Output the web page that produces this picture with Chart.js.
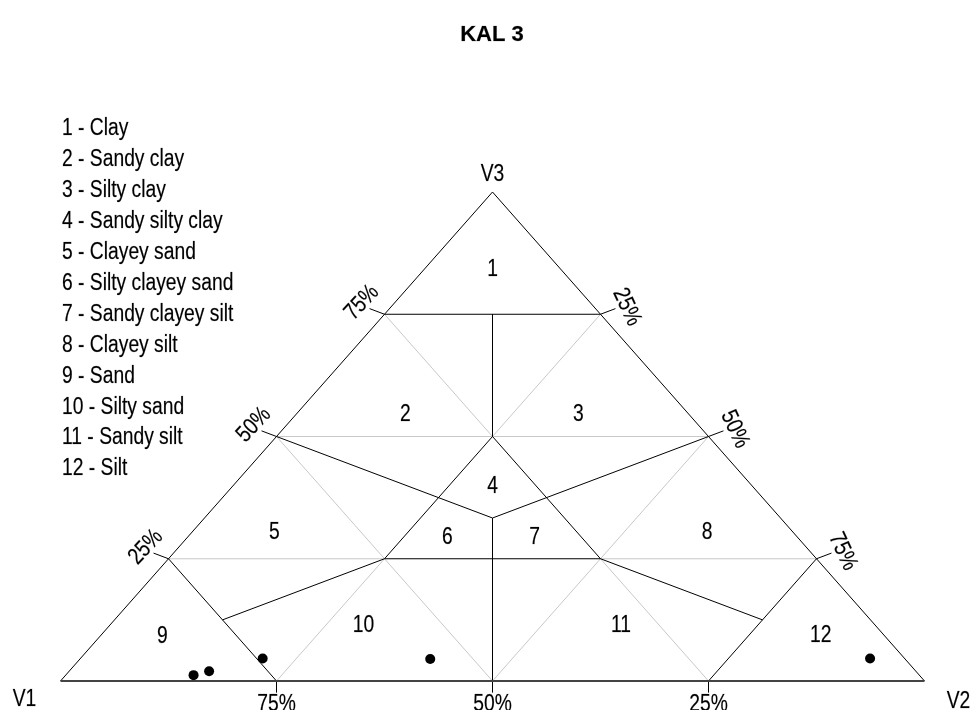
<!DOCTYPE html>
<html>
<head>
<meta charset="utf-8">
<title>KAL 3</title>
<script src="https://cdn.jsdelivr.net/npm/chart.js@4.4.1/dist/chart.umd.min.js"></script>
<style>
  html, body { margin: 0; padding: 0; background: #fff; }
  #wrap { width: 972px; height: 710px; }
</style>
</head>
<body>
<div id="wrap"><canvas id="canvasTernario" width="972" height="710"></canvas></div>
<script>
// titulo y vertices
var titulo = 'KAL 3';
var vertices = ['V1', 'V2', 'V3'];

// clases texturales (leyenda)
var clases = ['Clay', 'Sandy clay', 'Silty clay', 'Sandy silty clay', 'Clayey sand',
  'Silty clayey sand', 'Sandy clayey silt', 'Clayey silt', 'Sand', 'Silty sand',
  'Sandy silt', 'Silt'];

// muestras en % (V1, V2, V3)
var muestraV1 = [84.0, 81.8, 74.3, 54.9, 4.0];
var muestraV2 = [14.8, 16.2, 21.1, 40.5, 91.4];
var muestraV3 = [1.2, 2.0, 4.6, 4.5, 4.6];

// marcas de los ejes
var tickPct = [25, 50, 75];
var tickLabels = ['25%', '50%', '75%'];

var H = Math.sqrt(3) / 2;

// pasar de (V1, V2, V3) en % a x,y del triangulo
function tern(a, b, c) {
  var s = a + b + c;
  return { x: (b + c / 2) / s, y: (c / s) * H };
}

// limites de las clases (negro)
var T = 100 / 3;
var limitesNegros = [
  [[25, 0, 75], [0, 25, 75]],
  [[12.5, 12.5, 75], [25, 25, 50]],
  [[25, 25, 50], [50, 25, 25]],
  [[25, 25, 50], [25, 50, 25]],
  [[50, 0, 50], [T, T, T]],
  [[0, 50, 50], [T, T, T]],
  [[T, T, T], [50, 50, 0]],
  [[50, 25, 25], [25, 50, 25]],
  [[75, 0, 25], [75, 25, 0]],
  [[50, 25, 25], [75, 12.5, 12.5]],
  [[25, 50, 25], [12.5, 75, 12.5]],
  [[0, 75, 25], [25, 75, 0]]
];

// rejilla gris
var rejillaGris = [
  [[50, 0, 50], [0, 50, 50]],
  [[75, 0, 25], [50, 25, 25]],
  [[25, 50, 25], [0, 75, 25]],
  [[25, 0, 75], [25, 25, 50]],
  [[25, 50, 25], [25, 75, 0]],
  [[0, 25, 75], [25, 25, 50]],
  [[50, 25, 25], [75, 25, 0]],
  [[50, 0, 50], [50, 50, 0]],
  [[0, 50, 50], [50, 50, 0]]
];

function segmento(par, color, ancho, orden) {
  return {
    type: 'scatter',
    data: [tern.apply(null, par[0]), tern.apply(null, par[1])],
    showLine: true,
    borderColor: color,
    borderWidth: ancho,
    pointRadius: 0,
    clip: false,
    order: orden
  };
}

var datasets = [];

rejillaGris.forEach(function (s) { datasets.push(segmento(s, '#c8c8c8', 1, 3)); });
limitesNegros.forEach(function (s) { datasets.push(segmento(s, '#000', 1, 2)); });

// lados del triangulo
datasets.push(segmento([[100, 0, 0], [0, 0, 100]], '#000', 1, 2));
datasets.push(segmento([[0, 100, 0], [0, 0, 100]], '#000', 1, 2));
datasets.push(segmento([[100, 0, 0], [0, 100, 0]], '#444', 2, 1));

// marcas: abajo (V1), izquierda (V3), derecha (V2)
var L = 0.02;
tickPct.forEach(function (p) {
  var b = tern(p, 100 - p, 0);
  var iz = tern(100 - p, 0, p);
  var de = tern(0, p, 100 - p);
  [[b, 0, -1], [iz, -0.866, 0.5], [de, 0.866, 0.5]].forEach(function (m) {
    datasets.push({
      type: 'scatter',
      data: [m[0], { x: m[0].x + m[1] * L, y: m[0].y + m[2] * L }],
      showLine: true, borderColor: '#000', borderWidth: 1,
      pointRadius: 0, clip: false, order: 2
    });
  });
});

// puntos de las muestras
var puntos = [];
muestraV1.forEach(function (v, i) {
  puntos.push(tern(v, muestraV2[i], muestraV3[i]));
});
datasets.push({
  type: 'scatter',
  data: puntos,
  pointRadius: 5,
  pointBackgroundColor: '#000',
  pointBorderColor: '#000',
  pointBorderWidth: 0,
  clip: false,
  order: 0
});

// fuente estrecha; si no existe se comprime la normal
var fuente = '"Liberation Sans Narrow"';
var escala = 1;
(function () {
  var c = document.createElement('canvas').getContext('2d');
  c.font = '22px "Liberation Sans Narrow", monospace';
  var w1 = c.measureText('Sandy clayey silt').width;
  c.font = '22px monospace';
  var w2 = c.measureText('Sandy clayey silt').width;
  if (Math.abs(w1 - w2) < 0.5) {
    fuente = '"Liberation Sans", Arial, sans-serif';
    escala = 0.82;
  }
})();

var FS = 23.5;

function texto(ctx, str, x, y, size, opts) {
  opts = opts || {};
  ctx.save();
  ctx.translate(x, y);
  if (opts.rot) ctx.rotate(opts.rot * Math.PI / 180);
  ctx.scale(opts.ancho === 1 ? 1 : escala, 1);
  ctx.font = (opts.bold ? 'bold ' : '') + size + 'px ' + (opts.ancho === 1 ? '"Liberation Sans", Arial, sans-serif' : fuente);
  ctx.fillStyle = '#000';
  ctx.strokeStyle = 'rgba(0,0,0,0.35)';
  ctx.lineWidth = 0.5;
  ctx.textAlign = opts.align || 'center';
  ctx.textBaseline = 'alphabetic';
  // y = centro de las mayusculas
  ctx.fillText(str, 0, 0.358 * size);
  ctx.strokeText(str, 0, 0.358 * size);
  ctx.restore();
}

// posiciones de los numeros de cada clase (V1, V2, V3)
var posClases = [
  [7.75, 7.75, 84.5], [32.7, 12.5, 54.8], [12.65, 32.55, 54.8], [29.95, 29.95, 40.1],
  [59.9, 9.4, 30.7], [40.4, 29.95, 29.65], [30.3, 40.05, 29.65], [9.8, 59.5, 30.7],
  [83.5, 7.1, 9.4], [59.1, 29.24, 11.66], [29.3, 59.04, 11.66], [7.2, 83.2, 9.6]
];

var textosPlugin = {
  id: 'textosTernario',
  afterDatasetsDraw: function (chart) {
    var ctx = chart.ctx;
    var sx = chart.scales.x, sy = chart.scales.y;
    function px(p) { return [sx.getPixelForValue(p.x), sy.getPixelForValue(p.y)]; }

    texto(ctx, titulo, chart.width / 2 + 6, 33, 22, { bold: true, ancho: 1 });

    clases.forEach(function (nombre, i) {
      texto(ctx, (i + 1) + ' - ' + nombre, 62, 127 + 30.9 * i, FS, { align: 'left' });
    });

    posClases.forEach(function (t, i) {
      var q = px(tern(t[0], t[1], t[2]));
      texto(ctx, String(i + 1), q[0], q[1], FS);
    });

    var v1 = px(tern(100, 0, 0)), v2 = px(tern(0, 100, 0)), v3 = px(tern(0, 0, 100));
    texto(ctx, vertices[0], v1[0] - 36, v1[1] + 17, FS);
    texto(ctx, vertices[1], v2[0] + 34, v2[1] + 19, FS);
    texto(ctx, vertices[2], v3[0], v3[1] - 19, FS);

    tickPct.forEach(function (p, i) {
      var b = px(tern(p, 100 - p, 0));
      texto(ctx, tickLabels[i], b[0], b[1] + 22, FS);
      var iz = px(tern(100 - p, 0, p));
      texto(ctx, tickLabels[i], iz[0] - 24, iz[1] - 13, FS, { rot: -47 });
      var de = px(tern(0, p, 100 - p));
      texto(ctx, tickLabels[i], de[0] + 28, de[1] - 8, FS, { rot: 65 });
    });
  }
};

var ctx = document.getElementById('canvasTernario').getContext('2d');
window.myTernario = new Chart(ctx, {
  type: 'scatter',
  data: { datasets: datasets },
  options: {
    responsive: false,
    animation: false,
    devicePixelRatio: 1,
    layout: { padding: { left: 60.5, right: 47.5, top: 192, bottom: 29 } },
    scales: {
      x: { type: 'linear', min: 0, max: 1, display: false },
      y: { type: 'linear', min: 0, max: H, display: false }
    },
    plugins: {
      legend: { display: false },
      tooltip: { enabled: false },
      title: { display: false }
    }
  },
  plugins: [textosPlugin]
});
</script>
</body>
</html>
